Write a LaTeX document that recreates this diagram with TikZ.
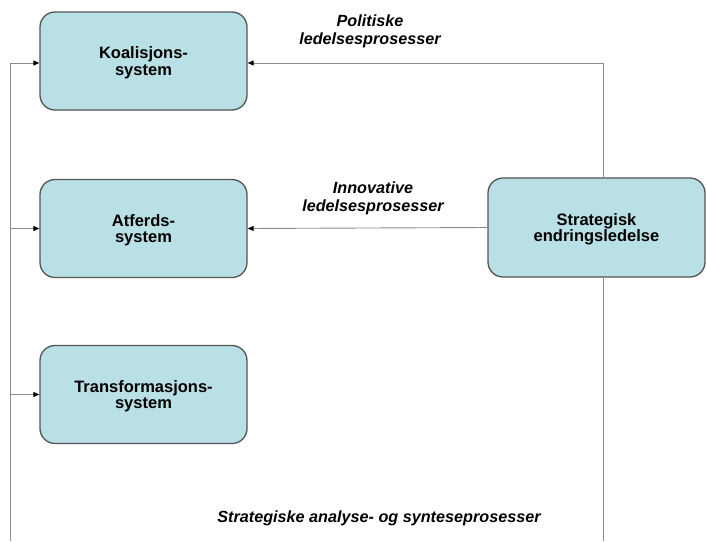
\documentclass[tikz,border=0pt]{standalone}
\usepackage{fontspec}
\setmainfont{Liberation Sans}
\usetikzlibrary{arrows.meta}
\definecolor{boxfill}{RGB}{185,224,228}
\definecolor{boxline}{RGB}{85,85,85}
\definecolor{conn}{RGB}{140,140,140}
\tikzset{
  sysbox/.style={draw=boxline, line width=1.3pt, fill=boxfill, rounded corners=15pt,
    minimum width=207pt, minimum height=98pt, align=center, inner sep=0pt,
    text depth=0pt, font=\fontsize{16.5}{16.5}\selectfont\bfseries},
  conline/.style={draw=conn, line width=0.9pt},
  arr/.style={conline, -{Triangle[length=6pt,width=5pt,fill=black,color=black]}},
  lbl/.style={align=center, font=\fontsize{16.2}{18}\selectfont\bfseries\itshape}
}
\begin{document}
\begin{tikzpicture}[x=1pt,y=-1pt]
\useasboundingbox (0,0) rectangle (707,541);
\node[sysbox] (K) at (143.5,61) {Koalisjons-\\system};
\node[sysbox] (A) at (143.5,228.5) {Atferds-\\system};
\node[sysbox] (T) at (143.5,394.5) {Transformasjons-\\system};
\node[sysbox, minimum width=217pt, minimum height=99pt] (S) at (596.5,227.5) {Strategisk\\endringsledelse};
\coordinate (lt) at (10,63);
\coordinate (lb) at (10,541);
\coordinate (rt) at (603,63);
\coordinate (rb) at (603,541);
\draw[conline] (lb) -- (lt);
\draw[arr] (lt) -- (K.west |- lt);
\draw[arr] (lt |- A.west) -- (A.west);
\draw[arr] (lt |- T.west) -- (T.west);
\draw[conline] (rb) -- (rb |- S.south);
\draw[conline] (rt |- S.north) -- (rt);
\draw[arr] (rt) -- (K.east |- rt);
\draw[arr] (S.west) -- (A.east);
\node[lbl] (L1) at (370,31) {Politiske\\ledelsesprosesser};
\node[lbl] (L2) at (373,198) {Innovative\\ledelsesprosesser};
\node[lbl] (L3) at (379,518) {Strategiske analyse- og synteseprosesser};
\end{tikzpicture}
\end{document}
